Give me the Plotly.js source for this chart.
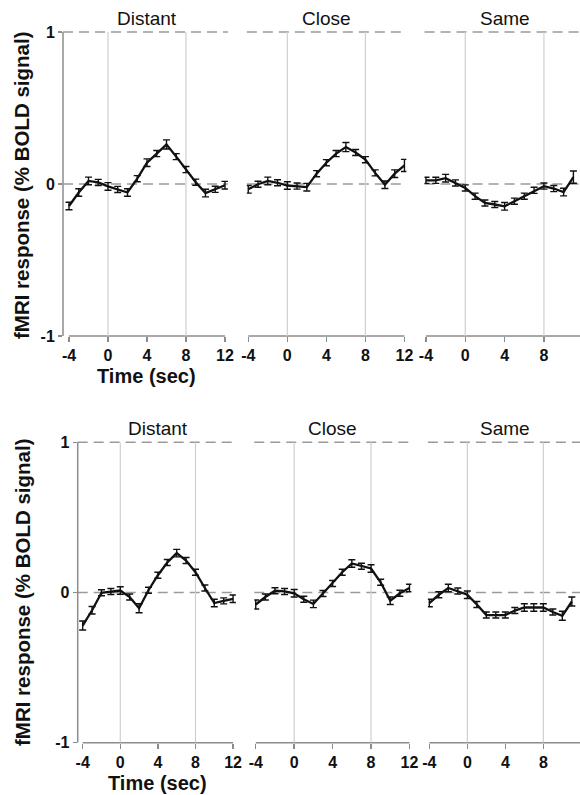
<!DOCTYPE html>
<html>
<head>
<meta charset="utf-8">
<script src="https://cdn.plot.ly/plotly-3.0.1.min.js"></script>
<style>html,body{margin:0;padding:0;background:#fff;}#chart{width:580px;height:795px;}</style>
</head>
<body>
<div id="chart"></div>
<script>
// ---- data ----
const timeFull = [-4,-3,-2,-1,0,1,2,3,4,5,6,7,8,9,10,11,12];
const timeSame = [-4,-3,-2,-1,0,1,2,3,4,5,6,7,8,9,10,11];

const panelTitles = ['Distant','Close','Same'];
const xTickVals = [-4,0,4,8,12];
const xTickText = ['-4','0','4','8','12'];
const yTickVals = [-1,0,1];
const yTickText = ['-1','0','1'];
const yAxisTitle = 'fMRI response (% BOLD signal)';
const xAxisTitle = 'Time (sec)';

// top row
const topDistant = [-0.145,-0.056,0.02,0.01,-0.016,-0.036,-0.056,0.035,0.14,0.2,0.26,0.18,0.095,0.012,-0.06,-0.035,-0.008];
const topDistantErr = [0.025,0.025,0.025,0.02,0.025,0.02,0.025,0.02,0.025,0.02,0.03,0.02,0.02,0.02,0.025,0.02,0.025];
const topClose = [-0.035,-0.002,0.02,0.008,-0.01,-0.014,-0.021,0.068,0.14,0.2,0.243,0.207,0.16,0.073,-0.005,0.068,0.122];
const topCloseErr = [0.025,0.02,0.025,0.02,0.025,0.02,0.025,0.02,0.02,0.02,0.03,0.02,0.02,0.02,0.025,0.025,0.04];
const topSame = [0.024,0.024,0.038,0.007,-0.026,-0.08,-0.125,-0.135,-0.147,-0.113,-0.08,-0.042,-0.014,-0.03,-0.053,0.045];
const topSameErr = [0.02,0.02,0.025,0.02,0.02,0.02,0.02,0.02,0.025,0.02,0.02,0.02,0.02,0.02,0.025,0.04];

// bottom row
const botDistant = [-0.22,-0.118,-0.002,0.007,0.013,-0.03,-0.105,0.015,0.115,0.2,0.262,0.213,0.135,0.03,-0.07,-0.056,-0.042];
const botDistantErr = [0.03,0.025,0.02,0.02,0.025,0.02,0.03,0.02,0.02,0.02,0.025,0.02,0.02,0.02,0.025,0.02,0.025];
const botClose = [-0.08,-0.03,0.012,0.007,-0.005,-0.045,-0.076,-0.007,0.06,0.135,0.193,0.175,0.16,0.068,-0.055,-0.005,0.03];
const botCloseErr = [0.03,0.02,0.02,0.02,0.025,0.02,0.025,0.02,0.02,0.02,0.025,0.02,0.025,0.02,0.025,0.02,0.025];
const botSame = [-0.07,-0.015,0.03,0.01,-0.015,-0.08,-0.15,-0.15,-0.15,-0.12,-0.1,-0.1,-0.1,-0.13,-0.155,-0.06];
const botSameErr = [0.025,0.02,0.025,0.02,0.025,0.02,0.02,0.02,0.02,0.02,0.025,0.025,0.025,0.02,0.03,0.03];

// ---- layout geometry (pixels -> paper) ----
const W = 580, H = 795;
const px = v => v / W;
const py = v => 1 - v / H;

const panels = [
  {x: timeFull, y: topDistant, e: topDistantErr, xd: [63, 227.9],  xr: [-4.615, 12.3], yd: [336, 27.4],  title: 0, row: 0, first: true},
  {x: timeFull, y: topClose,   e: topCloseErr,   xd: [246.8, 406.4], xr: [-4.15, 12.2], yd: [336, 27.4], title: 1, row: 0},
  {x: timeSame, y: topSame,    e: topSameErr,    xd: [424.5, 580],  xr: [-4.15, 11.67], yd: [336, 27.4], title: 2, row: 0},
  {x: timeFull, y: botDistant, e: botDistantErr, xd: [77.7, 235.9], xr: [-4.53, 12.3], yd: [742.7, 437.8], title: 0, row: 1, first: true},
  {x: timeFull, y: botClose,   e: botCloseErr,   xd: [254.3, 411.4], xr: [-4.15, 12.2], yd: [742.7, 437.8], title: 1, row: 1},
  {x: timeSame, y: botSame,    e: botSameErr,    xd: [427.9, 580],  xr: [-4.15, 11.86], yd: [742.7, 437.8], title: 2, row: 1}
];

const FONT = 'Liberation Sans, Arial, Helvetica, sans-serif';
const axisGrey = '#8c8c8c';
const traces = [];
const shapes = [];
const annotations = [];
const layout = {
  width: W, height: H,
  margin: {l: 0, r: 0, t: 0, b: 0},
  paper_bgcolor: '#fff', plot_bgcolor: '#fff',
  showlegend: false,
  font: {family: FONT, color: '#111'}
};

panels.forEach((p, i) => {
  const s = i === 0 ? '' : String(i + 1);
  const xa = 'x' + s, ya = 'y' + s;
  traces.push({
    type: 'scatter', mode: 'lines',
    x: p.x, y: p.y,
    xaxis: xa, yaxis: ya,
    line: {color: '#111', width: 2.3},
    error_y: {type: 'data', array: p.e, visible: true, color: '#111', thickness: 1.4, width: 3.5},
    hoverinfo: 'skip'
  });
  layout['xaxis' + s] = {
    domain: [px(p.xd[0]), px(p.xd[1])],
    range: p.xr,
    anchor: ya,
    showgrid: false, zeroline: false, showline: false,
    ticks: 'outside', ticklen: 5, tickwidth: 1.5, tickcolor: axisGrey,
    tickvals: xTickVals, ticktext: xTickText,
    tickfont: {family: FONT, size: 16, color: '#111', weight: 'bold'},
    fixedrange: true
  };
  layout['yaxis' + s] = {
    domain: [py(p.yd[0]), py(p.yd[1])],
    range: [-1, 1.03],
    anchor: xa,
    showgrid: false, zeroline: false, showline: false,
    ticks: p.first ? 'outside' : '',
    ticklen: 4, tickwidth: 1.5, tickcolor: axisGrey,
    tickvals: yTickVals, ticktext: yTickText,
    showticklabels: !!p.first,
    tickfont: {family: FONT, size: 16, color: '#111', weight: 'bold'},
    fixedrange: true
  };
  // dashed reference lines at 1 and 0
  [1, 0].forEach(v => shapes.push({
    type: 'line', layer: 'below',
    xref: xa + ' domain', x0: 0, x1: 1,
    yref: ya, y0: v, y1: v,
    line: {color: '#9a9a9a', width: 1.5, dash: '10px,6px'}
  }));
  // vertical lines at t=0 and t=8
  [0, 8].forEach(v => shapes.push({
    type: 'line', layer: 'below',
    xref: xa, x0: v, x1: v,
    yref: ya, y0: -1, y1: 1,
    line: {color: '#cfcfcf', width: 1.2}
  }));
  // x axis line
  shapes.push({
    type: 'line', layer: 'below',
    xref: xa, x0: -4, x1: 12,
    yref: ya + ' domain', y0: 0, y1: 0,
    line: {color: axisGrey, width: 1.5}
  });
  if (p.first) {
    shapes.push({
      type: 'line', layer: 'below',
      xref: xa + ' domain', x0: 0, x1: 0,
      yref: ya, y0: -1, y1: 1,
      line: {color: axisGrey, width: 1.5}
    });
  }
  // panel title
  annotations.push({
    text: panelTitles[p.title], showarrow: false,
    xref: xa, x: 4, yref: 'paper',
    y: py(p.row === 0 ? 19 : 428), yanchor: 'middle', xanchor: 'center',
    font: {family: FONT, size: 19, color: '#111'}
  });
  if (p.first) {
    annotations.push({
      text: xAxisTitle, showarrow: false,
      xref: xa, x: 4, yref: 'paper',
      y: py(p.row === 0 ? 376 : 783), yanchor: 'middle', xanchor: 'center',
      font: {family: FONT, size: 20, color: '#111', weight: 'bold'}
    });
    annotations.push({
      text: yAxisTitle, showarrow: false, textangle: -90,
      xref: 'paper', x: px(22), yref: 'paper',
      y: py(p.row === 0 ? 185 : 592), yanchor: 'middle', xanchor: 'center',
      font: {family: FONT, size: 20.5, color: '#111', weight: 'bold'}
    });
  }
});

layout.shapes = shapes;
layout.annotations = annotations;

Plotly.newPlot('chart', traces, layout, {staticPlot: true, displayModeBar: false});
</script>
</body>
</html>
